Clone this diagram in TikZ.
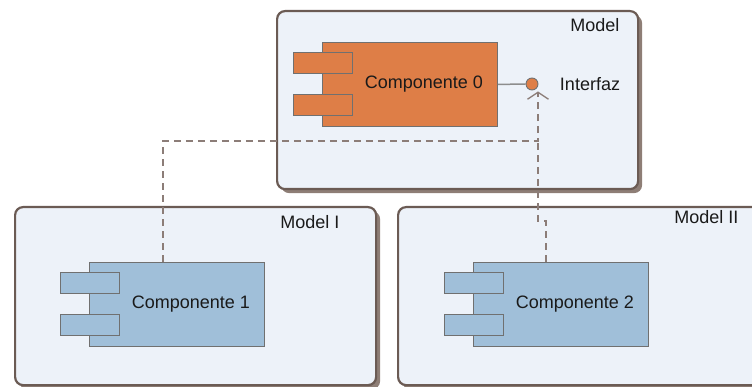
\documentclass[tikz,border=0pt]{standalone}
\usepackage{fontspec}
\setmainfont{Liberation Sans}
\usetikzlibrary{arrows.meta,shadows}
\definecolor{pkgline}{HTML}{6B5B54}
\definecolor{pkgshade}{HTML}{8E7E76}
\definecolor{pkgfill}{HTML}{EDF2F9}
\definecolor{orangecomp}{HTML}{DE7E47}
\definecolor{bluecomp}{HTML}{A0BFD9}
\definecolor{compline}{HTML}{707070}
\definecolor{depline}{HTML}{8C7D78}
\definecolor{inktext}{HTML}{1A1A1A}

\tikzset{
  pkg/.style={draw=pkgline, line width=2.2pt, fill=pkgfill, rounded corners=8pt,
    inner sep=0pt, anchor=north west,
    drop shadow={shadow xshift=4pt, shadow yshift=-4pt, fill=pkgshade, opacity=1}},
  pkgname/.style={font=\fontsize{18}{21}\selectfont, text=inktext, anchor=east},
  comp/.style={draw=compline, line width=0.9pt, inner sep=0pt, anchor=north west,
    minimum width=175pt, minimum height=84pt},
  compname/.style={label={[font=\fontsize{18}{21}\selectfont, text=inktext,
    xshift=14pt]center:#1}},
  port/.style={draw=compline, line width=0.9pt, inner sep=0pt, anchor=north west,
    minimum width=59pt, minimum height=21pt},
  dep/.style={draw=depline, line width=1.3pt, dash pattern=on 7pt off 5pt},
}

\begin{document}
\begin{tikzpicture}[x=1pt, y=-1pt]
  \useasboundingbox (0,0) rectangle (752,387);
  \clip (0,0) rectangle (752,387);

  % packages
  \node[pkg, minimum width=361pt, minimum height=178pt] (model) at (276,10) {};
  \node[pkg, minimum width=361pt, minimum height=178pt] (modeli) at (14,206) {};
  \node[pkg, minimum width=372pt, minimum height=178pt] (modelii) at (397,206) {};
  \node[pkgname] (modeltxt) at (623,25) {Model};
  \node[pkgname] (modelitxt) at (343,222) {Model I};
  \node[pkgname] (modeliitxt) at (742,217) {Model II};

  % components
  \node[comp, fill=orangecomp, compname=Componente 0] (comp0) at (322,42) {};
  \node[port, fill=orangecomp] (comp0a) at ([shift={(-29,10)}]comp0.north west) {};
  \node[port, fill=orangecomp] (comp0b) at ([shift={(-29,52)}]comp0.north west) {};

  \node[comp, fill=bluecomp, compname=Componente 1] (comp1) at (89,262) {};
  \node[port, fill=bluecomp] (comp1a) at ([shift={(-29,10)}]comp1.north west) {};
  \node[port, fill=bluecomp] (comp1b) at ([shift={(-29,52)}]comp1.north west) {};

  \node[comp, fill=bluecomp, compname=Componente 2] (comp2) at (473,262) {};
  \node[port, fill=bluecomp] (comp2a) at ([shift={(-29,10)}]comp2.north west) {};
  \node[port, fill=bluecomp] (comp2b) at ([shift={(-29,52)}]comp2.north west) {};

  % interface
  \node[circle, draw=compline, fill=orangecomp, line width=0.9pt, inner sep=0pt,
        minimum size=12pt] (iface) at (532,84) {};
  \draw[draw=compline!80, line width=1.5pt] (comp0.east) -- (iface.west);
  \node[font=\fontsize{18}{21}\selectfont, text=inktext] (ifacetxt) at (590,84) {Interfaz};

  % dependencies
  \coordinate (join) at (538,141);
  \coordinate (bend) at (538,221);
  \draw[dep] ([xshift=-15pt]comp2.north) |- (bend) -- (join);
  \draw[dep, -{Straight Barb[length=7pt, width=21pt, line join=miter]}]
    ([xshift=-14pt]comp1.north) |- (join) -- ([yshift=-1pt]iface.south -| join);
\end{tikzpicture}
\end{document}
